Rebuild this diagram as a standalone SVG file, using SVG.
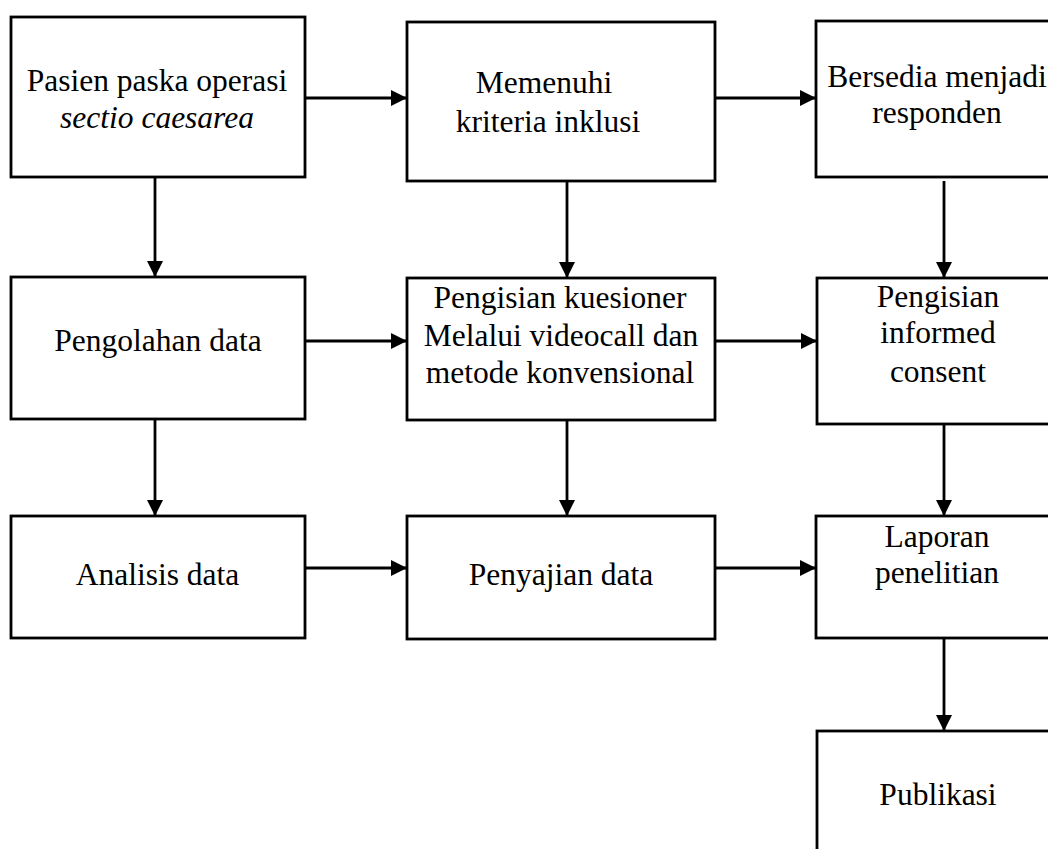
<svg xmlns="http://www.w3.org/2000/svg" width="1048" height="849" viewBox="0 0 1048 849">
<style>
.box{fill:#fff;stroke:#000;stroke-width:2.8}
.t{font-family:"Liberation Serif","Times New Roman",serif;font-size:31.5px;fill:#000;text-anchor:middle}
.i{font-style:italic}
.c{stroke:#000;stroke-width:2.8;fill:none;marker-end:url(#ah)}
</style>
<defs>
<marker id="ah" viewBox="0 0 16 16" refX="16" refY="8" markerWidth="16" markerHeight="16" markerUnits="userSpaceOnUse" orient="auto">
<path d="M0,0 L16,8 L0,16 z" fill="#000"/>
</marker>
</defs>
<rect width="1048" height="849" fill="#fff"/>
<g id="connectors">
<line class="c" x1="305" y1="98" x2="407" y2="98"/>
<line class="c" x1="715" y1="98" x2="816" y2="98"/>
<line class="c" x1="155" y1="177" x2="155" y2="277"/>
<line class="c" x1="567" y1="181" x2="567" y2="278"/>
<line class="c" x1="944" y1="181" x2="944" y2="278"/>
<line class="c" x1="305" y1="341" x2="407" y2="341"/>
<line class="c" x1="715" y1="341" x2="817" y2="341"/>
<line class="c" x1="155" y1="419" x2="155" y2="516"/>
<line class="c" x1="567" y1="420" x2="567" y2="516"/>
<line class="c" x1="944" y1="424" x2="944" y2="516"/>
<line class="c" x1="305" y1="568" x2="407" y2="568"/>
<line class="c" x1="715" y1="568" x2="816" y2="568"/>
<line class="c" x1="944" y1="638" x2="944" y2="731"/>
</g>
<g id="n1">
<rect class="box" x="11" y="17" width="294" height="160"/>
<text class="t" x="157" y="91">Pasien paska operasi</text>
<text class="t i" x="157" y="128">sectio caesarea</text>
</g>
<g id="n2">
<rect class="box" x="407" y="22" width="308" height="159"/>
<text class="t" x="544" y="93">Memenuhi</text>
<text class="t" x="548" y="132">kriteria inklusi</text>
</g>
<g id="n3">
<rect class="box" x="816" y="21" width="250" height="156"/>
<text class="t" x="937" y="87">Bersedia menjadi</text>
<text class="t" x="937" y="123">responden</text>
</g>
<g id="n4">
<rect class="box" x="11" y="277" width="294" height="142"/>
<text class="t" x="158" y="351">Pengolahan data</text>
</g>
<g id="n5">
<rect class="box" x="407" y="278" width="308" height="142"/>
<text class="t" x="560" y="308">Pengisian kuesioner</text>
<text class="t" x="561" y="346">Melalui videocall dan</text>
<text class="t" x="560" y="383">metode konvensional</text>
</g>
<g id="n6">
<rect class="box" x="817" y="278" width="250" height="146"/>
<text class="t" x="938" y="307">Pengisian</text>
<text class="t" x="938" y="343">informed</text>
<text class="t" x="938" y="382">consent</text>
</g>
<g id="n7">
<rect class="box" x="11" y="516" width="294" height="122"/>
<text class="t" x="157.5" y="585">Analisis data</text>
</g>
<g id="n8">
<rect class="box" x="407" y="516" width="308" height="123"/>
<text class="t" x="561" y="585">Penyajian data</text>
</g>
<g id="n9">
<rect class="box" x="816" y="516" width="250" height="122"/>
<text class="t" x="937" y="547">Laporan</text>
<text class="t" x="937" y="583">penelitian</text>
</g>
<g id="n10">
<rect class="box" x="817" y="731" width="250" height="140"/>
<text class="t" x="938" y="805">Publikasi</text>
</g>
</svg>
